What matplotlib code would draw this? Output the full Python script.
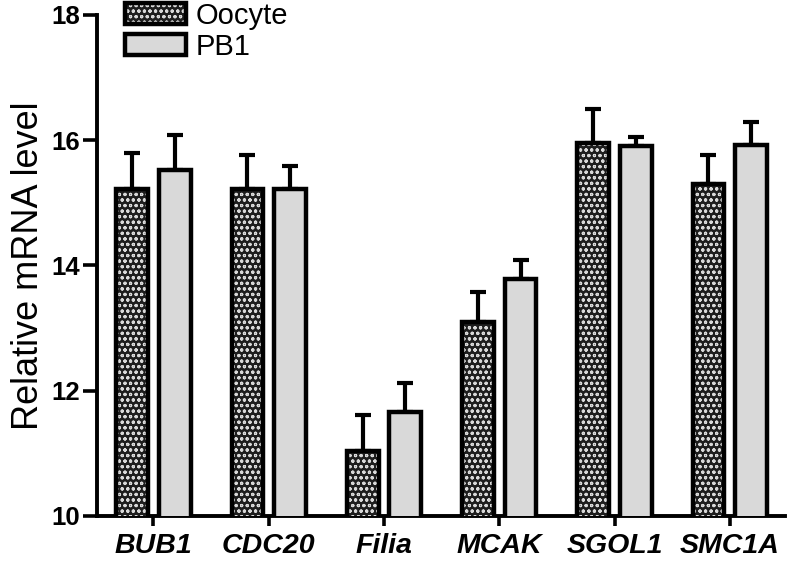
import matplotlib
matplotlib.use("Agg")
import matplotlib.pyplot as plt
import numpy as np

genes = ["BUB1", "CDC20", "Filia", "MCAK", "SGOL1", "SMC1A"]
oocyte = [15.22, 15.22, 11.04, 13.09, 15.96, 15.30]
oocyte_err = [0.57, 0.54, 0.58, 0.49, 0.53, 0.46]
pb1 = [15.52, 15.22, 11.66, 13.78, 15.90, 15.92]
pb1_err = [0.56, 0.36, 0.47, 0.30, 0.15, 0.37]
yticks = [10, 12, 14, 16, 18]

plt.rcParams['font.family'] = ['Liberation Sans', 'DejaVu Sans']
plt.rcParams['hatch.linewidth'] = 0.8

fig = plt.figure(figsize=(7.9, 5.63), dpi=100)
ax = fig.add_axes([0.1228, 0.0835, 0.871, 0.89])

x = np.arange(len(genes))
w = 0.275
off = 0.185
lw = 3.2

b1 = ax.bar(x - off, oocyte, w, color='#1e1e1e', edgecolor='black',
            linewidth=lw, hatch='ooo', zorder=3, label='Oocyte')
for p in b1:
    p._hatch_color = (0.85, 0.85, 0.85, 1)
b2 = ax.bar(x + off, pb1, w, color='#d9d9d9', edgecolor='black',
            linewidth=lw, zorder=3, label='PB1')

ax.errorbar(x - off, oocyte, yerr=[np.zeros(len(x)), oocyte_err], fmt='none',
            ecolor='black', elinewidth=3, capsize=6, capthick=3, zorder=2)
ax.errorbar(x + off, pb1, yerr=[np.zeros(len(x)), pb1_err], fmt='none',
            ecolor='black', elinewidth=3, capsize=6, capthick=3, zorder=2)

ax.set_ylim(10, 18)
ax.set_xlim(-0.49, 5.48)
ax.set_yticks(yticks)
ax.set_yticklabels([str(t) for t in yticks], fontsize=18.5, fontweight='bold')
ax.set_xticks(x)
ax.set_xticklabels(genes, fontsize=20.5, fontweight='bold', fontstyle='italic')
ax.tick_params(axis='y', length=10, width=2.6, pad=2)
ax.tick_params(axis='x', length=7, width=2.6, pad=5)
for s in ['top', 'right']:
    ax.spines[s].set_visible(False)
for s in ['left', 'bottom']:
    ax.spines[s].set_linewidth(2.8)
ax.set_ylabel('Relative mRNA level', fontsize=26, labelpad=4)

leg = ax.legend(loc='upper left', bbox_to_anchor=(0.04, 1.026), frameon=False,
                fontsize=21, handlelength=2.1, handleheight=0.75,
                labelspacing=0.1, handletextpad=0.35, borderpad=0.0,
                borderaxespad=0.0)

fig.savefig('out.png', dpi=100)
